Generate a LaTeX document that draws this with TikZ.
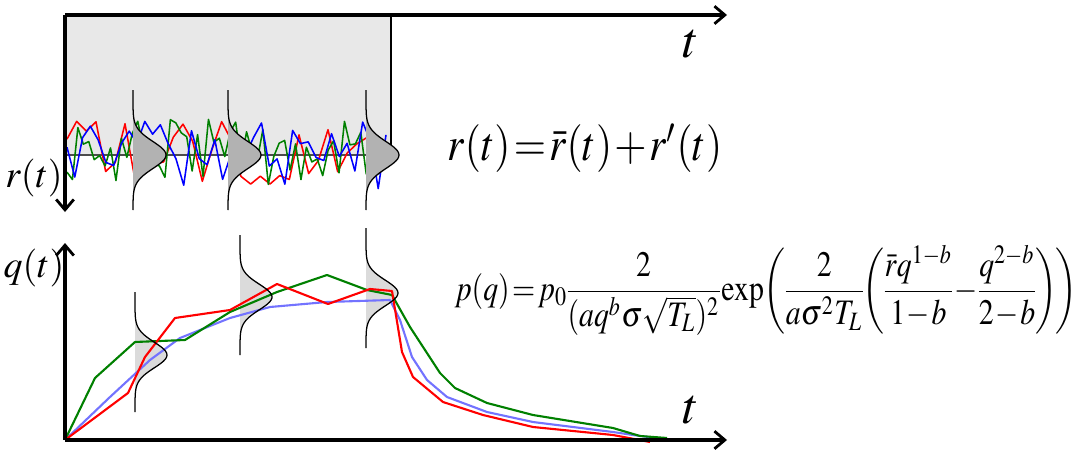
\documentclass[tikz,border=0pt]{standalone}
\usepackage{mathptmx}
\usepackage{tikz}
\usetikzlibrary{positioning,arrows.meta}

\begin{document}
\begin{tikzpicture}[
    x=0.25mm, y=-0.25mm,
    axis/.style={line width=2.2pt, -{Straight Barb[length=2.6mm,width=4.4mm,line width=2pt]}},
    noise/.style={line width=1.1pt, line join=round},
    path/.style={line width=1.5pt, line join=round},
    bell/.style={draw=black, line width=0.9pt},
    label/.style={inner sep=0pt, scale=2.7},
    tlabel/.style={inner sep=0pt, scale=3.6},
    eqn/.style={inner sep=0pt, execute at begin node={\thickmuskip=1.5mu\medmuskip=1mu\thinmuskip=1mu\nulldelimiterspace=0pt}}
  ]
  \useasboundingbox (0,0) rectangle (1084,450);

  % Top panel: r(t)
  \coordinate (o1) at (65,15);
  \coordinate (t1) at (727,15);
  \coordinate (r1) at (65,212);
  \fill[gray!18] (o1) rectangle (391,155);
  \draw[line width=0.8pt] (391,15) -- (391,155);
  \draw[black!70, line width=0.8pt] (66,155) -- (388,155);

  % Fluctuations
  \pgfmathsetseed{1234}
  \draw[noise, red] plot[domain=67:386, samples=34] (\x, {155+34*rand});
  \pgfmathsetseed{777}
  \draw[noise, green!50!black] plot[domain=67:388, samples=60] (\x, {155+36*rand});
  \pgfmathsetseed{4321}
  \draw[noise, blue] plot[domain=67:386, samples=42] (\x, {155+34*rand});

  % Distributions of r
  \foreach \gx/\gname in {133/ga, 228/gb, 366/gc} {
    \fill[gray!60] (\gx,90) -- plot[domain=90:210, samples=60, variable=\s]
      ({\gx+33*exp(-((\s-155)/19)^2)}, \s) -- cycle;
    \draw[bell] plot[domain=90:210, samples=60, variable=\s]
      ({\gx+33*exp(-((\s-155)/19)^2)}, \s);
    \coordinate (\gname) at (\gx,155);
  }

  \draw[axis] (o1) -- (t1);
  \draw[axis] (o1) -- (r1);
  \node[tlabel] (ttop) at (691,44) {$t$};
  \node[label] (rlab) at (34,178) {$r(t)$};
  \node[eqn, xscale=2.95, yscale=3.4] (req) at (585,148) {$r(t)=\bar{r}(t)+r'(t)$};

  % Bottom panel: q(t)
  \coordinate (o2) at (65,440);
  \coordinate (t2) at (727,440);
  \coordinate (q2) at (65,243);

  % Distributions of q
  \foreach \gx/\gy/\gtop/\gname in {135/355/292/gd, 240/297/235/ge, 366/293/228/gf} {
    \fill[gray!28] (\gx,\gtop) -- plot[domain=\gtop:\gtop+120, samples=60, variable=\s]
      ({\gx+32*exp(-((\s-\gy)/18)^2)}, \s) -- cycle;
  }

  % Trajectories
  \draw[path, blue!55] plot coordinates {(65,440) (110,397) (150,360) (180,338) (230,318)
    (270,307) (327,302) (390,300) (400,320) (412,357) (427,380) (447,397) (487,412)
    (533,422) (613,432) (633,435) (672,440)};
  \draw[path, green!50!black] plot coordinates {(65,440) (95,378) (135,342) (185,340)
    (230,312) (277,292) (327,275) (367,290) (392,295) (410,327) (440,373) (455,388)
    (487,403) (533,415) (613,428) (640,436) (667,438)};
  \draw[path, red] plot coordinates {(65,440) (128,393) (145,357) (175,318) (230,310)
    (277,284) (328,304) (370,289) (392,291) (402,352) (413,377) (443,402) (483,415)
    (533,427) (613,435) (650,442)};

  \foreach \gx/\gy/\gtop in {135/355/292, 240/297/235, 366/293/228} {
    \draw[bell] plot[domain=\gtop:\gtop+120, samples=60, variable=\s]
      ({\gx+32*exp(-((\s-\gy)/18)^2)}, \s);
  }

  \draw[axis] (o2) -- (t2);
  \draw[axis] (o2) -- (q2);
  \node[tlabel] (tbot) at (691,410) {$t$};
  \node[label] (qlab) at (34,268) {$q(t)$};
  \node[eqn, xscale=2.12, yscale=2.55, anchor=west] (peq) at (454,290)
    {$\displaystyle p(q)=p_0\frac{2}{(aq^b\sigma\sqrt{T_L})^2}\exp\!\left(\frac{2}{a\sigma^2T_L}\!\left(\frac{\bar{r}q^{1-b}}{1-b}-\frac{q^{2-b}}{2-b}\right)\!\right)$};
\end{tikzpicture}
\end{document}
